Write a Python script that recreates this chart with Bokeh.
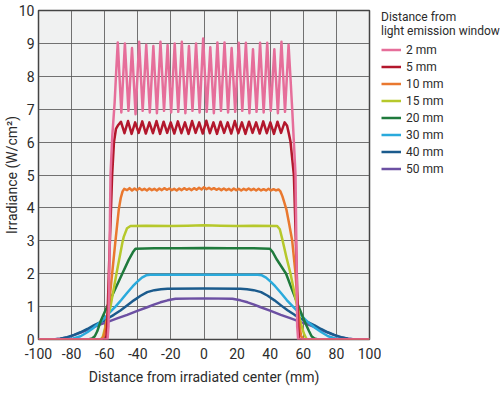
from bokeh.plotting import figure
from bokeh.models import Range1d, FixedTicker, Legend, LegendItem
from bokeh.layouts import row
from bokeh.embed import file_html
from bokeh.resources import INLINE

# ---- data (x in mm, irradiance in W/cm2) ----
mm2 = [(-100, 0), (-58.3, 0), (-57.7, 0.4), (-57.1, 2.5), (-56.5, 5.0), (-55.4, 6.2), (-54.0, 7.2), (-53.0, 8.2),
       (-52.1, 9.03), (-49.95, 6.9), (-47.8, 9.0), (-45.65, 6.95), (-43.5, 8.86), (-41.35, 6.85), (-39.2, 9.05),
       (-37.05, 6.95), (-34.9, 8.96), (-32.75, 6.9), (-30.6, 8.92), (-28.45, 6.88), (-26.3, 9.05), (-24.15, 6.95),
       (-22.0, 8.95), (-19.85, 6.9), (-17.7, 9.0), (-15.55, 6.92), (-13.4, 9.05), (-11.25, 6.88), (-9.1, 8.92),
       (-6.95, 6.95), (-4.8, 9.0), (-2.65, 6.9), (-0.5, 9.15), (1.65, 6.92), (3.8, 8.88), (5.95, 6.88), (8.1, 9.03),
       (10.25, 6.95), (12.4, 9.03), (14.55, 6.9), (16.7, 8.86), (18.85, 6.92), (21.0, 9.02), (23.15, 6.95),
       (25.3, 9.02), (27.45, 6.88), (29.6, 8.82), (31.75, 6.92), (33.9, 9.02), (36.05, 6.9), (38.2, 9.02),
       (40.35, 6.95), (42.5, 8.82), (44.65, 6.88), (46.8, 9.05), (48.95, 6.92), (51.1, 8.96),
       (52.2, 8.0), (53.3, 7.0), (54.3, 6.0), (55.3, 5.0), (55.9, 2.5), (56.3, 0.4), (56.9, 0), (100, 0)]

mm5 = [(-100, 0), (-59.2, 0), (-58.5, 0.4), (-57.2, 2.5), (-55.5, 5.0), (-54.4, 6.0), (-53.2, 6.4), (-51.8, 6.52),
       (-50.2, 6.62), (-48.05, 6.27), (-45.9, 6.64), (-43.75, 6.25), (-41.6, 6.6), (-39.45, 6.28), (-37.3, 6.63),
       (-35.15, 6.26), (-33.0, 6.6), (-30.85, 6.27), (-28.7, 6.64), (-26.55, 6.25), (-24.4, 6.62), (-22.25, 6.28),
       (-20.1, 6.6), (-17.95, 6.26), (-15.8, 6.63), (-13.65, 6.27), (-11.5, 6.6), (-9.35, 6.25), (-7.2, 6.64),
       (-5.05, 6.28), (-2.9, 6.6), (-0.75, 6.26), (1.4, 6.65), (3.55, 6.27), (5.7, 6.6), (7.85, 6.25), (10.0, 6.62),
       (12.15, 6.28), (14.3, 6.6), (16.45, 6.26), (18.6, 6.64), (20.75, 6.27), (22.9, 6.6), (25.05, 6.25),
       (27.2, 6.62), (29.35, 6.28), (31.5, 6.6), (33.65, 6.26), (35.8, 6.63), (37.95, 6.27), (40.1, 6.6),
       (42.25, 6.25), (44.4, 6.62), (46.55, 6.28), (48.7, 6.6), (50.2, 6.5), (51.3, 6.25), (52.3, 6.0),
       (53.3, 5.5), (54.3, 5.0), (55.8, 2.5), (56.9, 0.4), (57.5, 0), (100, 0)]

mm10 = [(-100, 0), (-62, 0), (-60.5, 0.12), (-59.5, 0.35), (-57.5, 1.0), (-55.5, 2.0), (-53.5, 3.0), (-51.5, 3.95),
        (-50.3, 4.3), (-49.2, 4.5), (-48.2, 4.58),
        (-46.5, 4.54), (-45, 4.6), (-43.5, 4.53), (-42, 4.59), (-40.5, 4.54), (-39, 4.6), (-37.5, 4.54), (-36, 4.58),
        (-34.5, 4.53), (-33, 4.59), (-31.5, 4.54), (-30, 4.58), (-28.5, 4.53), (-27, 4.59), (-25.5, 4.54), (-24, 4.6),
        (-22.5, 4.55), (-21, 4.59), (-19.5, 4.54), (-18, 4.58), (-16.5, 4.53), (-15, 4.59), (-13.5, 4.54), (-12, 4.6),
        (-10.5, 4.55), (-9, 4.59), (-7.5, 4.54), (-6, 4.6), (-4.5, 4.55), (-3, 4.61), (-1.5, 4.56), (0, 4.63),
        (1.5, 4.57), (3, 4.61), (4.5, 4.56), (6, 4.6), (7.5, 4.55), (9, 4.59), (10.5, 4.54), (12, 4.59), (13.5, 4.54),
        (15, 4.58), (16.5, 4.53), (18, 4.59), (19.5, 4.54), (21, 4.58), (22.5, 4.53), (24, 4.58), (25.5, 4.54),
        (27, 4.59), (28.5, 4.54), (30, 4.58), (31.5, 4.53), (33, 4.58), (34.5, 4.53), (36, 4.57), (37.5, 4.53),
        (39, 4.58), (40.5, 4.53), (42, 4.57), (43.5, 4.53), (45, 4.56),
        (46.2, 4.5), (47.4, 4.35), (48.6, 4.15), (49.8, 3.95), (51.5, 3.5), (53.3, 3.0), (55.3, 2.0), (56.7, 1.0),
        (57.8, 0.4), (58.6, 0.12), (60, 0), (100, 0)]

mm15 = [(-100, 0), (-63, 0), (-61.3, 0.05), (-59.8, 0.35), (-58.2, 0.68), (-56.5, 1.0), (-52.9, 2.0), (-49.3, 2.95),
        (-48.5, 3.12), (-46.5, 3.38), (-44.4, 3.45), (-35, 3.46), (-20, 3.45), (-10, 3.46), (0, 3.47), (10, 3.46),
        (20, 3.45), (30, 3.46), (44.2, 3.45), (45.8, 3.35), (47.3, 3.05), (49.8, 2.5), (52.3, 2.0), (56.3, 1.0),
        (58.2, 0.55), (60.3, 0.19), (61.8, 0.03), (63, 0), (100, 0)]

mm20 = [(-100, 0), (-70, 0), (-67.6, 0.03), (-66, 0.1), (-64.5, 0.25), (-62.3, 0.58), (-58.5, 1.0), (-54, 1.5),
        (-49.4, 2.0), (-45.5, 2.42), (-43, 2.65), (-41.4, 2.76), (-30, 2.77), (-15, 2.77), (0, 2.78), (15, 2.77),
        (30, 2.77), (39.8, 2.76), (41.5, 2.66), (44, 2.43), (49.6, 2.0), (53.3, 1.5), (57.2, 1.0), (61.2, 0.5),
        (63.5, 0.25), (65, 0.1), (66.7, 0.03), (69, 0), (100, 0)]

mm30 = [(-100, 0), (-84, 0), (-80, 0.02), (-74.6, 0.1), (-70.5, 0.22), (-66.6, 0.36), (-63.3, 0.5), (-60.1, 0.65),
        (-56.8, 0.83), (-53.5, 1.0), (-50, 1.2), (-46.4, 1.42), (-43, 1.62), (-40.4, 1.75), (-37.5, 1.88),
        (-35, 1.95), (-32.5, 1.97), (0, 1.97), (32.5, 1.97), (35, 1.95), (37.5, 1.88), (40.4, 1.75), (43, 1.62),
        (46.4, 1.42), (50, 1.2), (53.8, 1.0), (57, 0.83), (60.3, 0.65), (63.5, 0.5), (67, 0.36), (71, 0.22),
        (75, 0.1), (80.5, 0.02), (84, 0), (100, 0)]

mm40 = [(-100, 0), (-91, 0), (-87, 0.02), (-82.7, 0.07), (-78.5, 0.14), (-74.6, 0.22), (-70.5, 0.32), (-66.6, 0.43),
        (-62.5, 0.53), (-58.5, 0.63), (-54.5, 0.75), (-50.5, 0.88), (-46.5, 1.03), (-42.4, 1.19), (-38.3, 1.33),
        (-34.3, 1.44), (-30, 1.5), (-26, 1.53), (-22, 1.54), (0, 1.55), (22, 1.54), (26, 1.53), (30, 1.5),
        (34.5, 1.44), (38.5, 1.33), (42.6, 1.19), (46.7, 1.03), (50.7, 0.88), (54.7, 0.75), (58.7, 0.63),
        (62.7, 0.53), (66.8, 0.43), (70.7, 0.32), (74.8, 0.22), (78.7, 0.14), (82.9, 0.07), (87.2, 0.02), (91, 0),
        (100, 0)]

mm50 = [(-100, 0), (-92, 0), (-86.7, 0.02), (-81.5, 0.08), (-76.6, 0.17), (-71.5, 0.27), (-66.6, 0.38), (-62.5, 0.46),
        (-58.5, 0.53), (-52.5, 0.64), (-46.4, 0.75), (-40.3, 0.87), (-34.3, 0.98), (-30.3, 1.06), (-26.3, 1.13),
        (-22, 1.19), (-17.2, 1.24), (0, 1.25), (17.2, 1.24), (22, 1.19), (26.3, 1.13), (30.3, 1.06), (34.3, 0.98),
        (40.3, 0.87), (46.4, 0.75), (52.5, 0.64), (58.5, 0.53), (62.7, 0.46), (66.8, 0.38), (71.7, 0.27),
        (76.8, 0.17), (81.7, 0.08), (86.9, 0.02), (92, 0), (100, 0)]

series_labels = ["2 mm", "5 mm", "10 mm", "15 mm", "20 mm", "30 mm", "40 mm", "50 mm"]
series_data = [mm2, mm5, mm10, mm15, mm20, mm30, mm40, mm50]
series_colors = ["#e66e9a", "#b3172c", "#e9782f", "#b6c82b", "#1f7a3c", "#2aaadc", "#1b5b8d", "#6c50a3"]

x_ticks = [-100, -80, -60, -40, -20, 0, 20, 40, 60, 80, 100]
y_ticks = [0, 1, 2, 3, 4, 5, 6, 7, 8, 9, 10]

FONT = "Roboto"
TXT = "#2b2b2b"

p = figure(width=381, height=394, output_backend="svg", toolbar_location=None,
           x_range=Range1d(-100, 100), y_range=Range1d(0, 10),
           min_border_left=34, min_border_top=10, min_border_bottom=55, min_border_right=12)

p.background_fill_color = "#f0f1f1"
p.border_fill_color = "white"
p.outline_line_color = "#444444"
p.outline_line_width = 1.5

for lab, data, col in reversed(list(zip(series_labels, series_data, series_colors))):
    xs = [d[0] for d in data]
    ys = [d[1] for d in data]
    p.line(xs, ys, line_color=col, line_width=2.5, line_join="round")

p.xaxis.ticker = FixedTicker(ticks=x_ticks)
p.yaxis.ticker = FixedTicker(ticks=y_ticks)
p.xgrid.ticker = FixedTicker(ticks=x_ticks)
p.ygrid.ticker = FixedTicker(ticks=y_ticks)
p.xaxis.major_label_overrides = {t: str(t) for t in x_ticks}
for g in (p.xgrid, p.ygrid):
    g.grid_line_color = "#5a5a5a"
    g.grid_line_width = 1
    g.grid_line_alpha = 0.85

for ax in (p.xaxis, p.yaxis):
    ax.axis_line_color = None
    ax.major_tick_line_color = None
    ax.minor_tick_line_color = None
    ax.major_tick_out = 0
    ax.major_tick_in = 0
    ax.minor_tick_out = 0
    ax.minor_tick_in = 0
    ax.major_label_text_font = FONT
    ax.major_label_text_font_size = "14px"
    ax.major_label_text_color = TXT
    ax.axis_label_text_font = FONT
    ax.axis_label_text_font_size = "14px"
    ax.axis_label_text_font_style = "normal"
    ax.axis_label_text_color = TXT

p.xaxis.axis_label = "Distance from irradiated center (mm)"
p.yaxis.axis_label = "Irradiance (W/cm²)"
p.xaxis.major_label_standoff = 8
p.xaxis.axis_label_standoff = 7
p.yaxis.major_label_standoff = 4
p.yaxis.axis_label_standoff = -4

# ---- legend panel (its sample lines lie outside its own view; only the key shows) ----
lg = figure(width=119, height=394, output_backend="svg", toolbar_location=None,
            x_range=Range1d(1000, 1001), y_range=Range1d(1000, 1001),
            min_border_left=0, min_border_right=0, min_border_top=9, min_border_bottom=0)
lg.axis.visible = False
lg.grid.visible = False
lg.outline_line_color = None
lg.background_fill_color = "white"
lg.border_fill_color = "white"

items = []
for lab, data, col in zip(series_labels, series_data, series_colors):
    r = lg.line([d[0] for d in data], [d[1] for d in data], line_color=col, line_width=2.5)
    items.append(LegendItem(label=lab, renderers=[r]))

legend = Legend(items=items, title="Distance from\nlight emission window", location="top_left")
legend.title_text_font = FONT
legend.title_text_font_size = "12px"
legend.title_text_font_style = "normal"
legend.title_text_color = TXT
legend.title_standoff = 3
legend.label_text_font = FONT
legend.label_text_font_size = "12px"
legend.label_text_color = TXT
legend.glyph_width = 20
legend.glyph_height = 17
legend.label_height = 17
legend.label_standoff = 5
legend.spacing = 0
legend.padding = 0
legend.margin = 0
legend.border_line_color = None
legend.background_fill_alpha = 0
lg.add_layout(legend, "center")

layout = row(p, lg)
open("out.html", "w").write(file_html(layout, INLINE))
